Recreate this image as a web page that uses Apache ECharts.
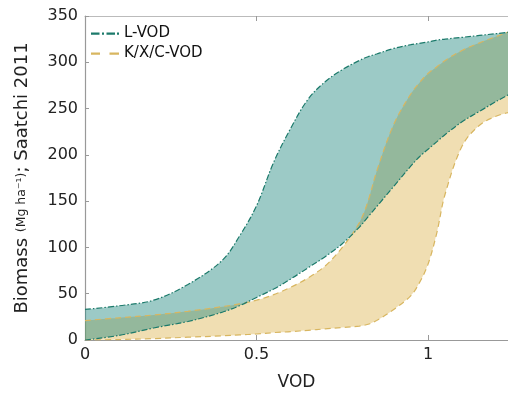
<!DOCTYPE html>
<html>
<head>
<meta charset="utf-8">
<script src="https://cdn.jsdelivr.net/npm/echarts@6/dist/echarts.min.js"></script>
<style>
html,body{margin:0;padding:0;background:#fff;}
#c{width:508px;height:396px;}
</style>
</head>
<body>
<div id="c"></div>
<script>
// VOD grid (x values)
var vod = [0, 0.1, 0.2, 0.3, 0.4, 0.45, 0.5, 0.55, 0.6, 0.65, 0.7, 0.75, 0.8, 0.825, 0.85, 0.9, 0.95, 0.975, 1.0, 1.025, 1.05, 1.1, 1.15, 1.2, 1.25];
// L-VOD band (upper / lower), Mg/ha
var lUpper = [33, 37, 43, 60, 86, 112, 145, 192, 229, 260, 279, 292, 302, 306, 309, 315, 319, 320.5, 322, 324, 325, 327, 329, 331, 333];
var lLower = [0, 5, 13, 20, 30, 37, 46, 55, 66, 78, 90, 104, 122, 133, 144, 166, 188, 198, 206, 214, 222, 236, 247, 258, 268];
// K/X/C-VOD band (upper / lower)
var kUpper = [21, 24, 27, 31, 36, 39, 43, 49, 57, 67, 80, 100, 127, 150, 182, 233, 266, 278, 288, 295, 302, 313, 321, 328, 335];
var kLower = [0, 0.5, 1.5, 3, 4.5, 5.5, 6.5, 8, 9, 10.5, 12, 13.5, 15, 17, 21, 33, 48, 62, 82, 115, 158, 210, 232, 242, 247];
var yTicks = {min: 0, max: 350, interval: 50};
var xTicks = {min: 0, max: 1.233, interval: 0.5};

// value first, VOD second -> stacking happens on the biomass (y) dimension
function pairs(ys) { return ys.map(function (y, i) { return [y, vod[i]]; }); }
function diff(hi, lo) { return hi.map(function (v, i) { return v - lo[i]; }); }

var tealLine = '#1c7a6b', tealFill = 'rgba(40,140,130,0.46)';
var yelLine = '#d8b660', yelFill = 'rgba(222,182,85,0.45)';
var font = 'DejaVu Sans';

function lineSeries(name, stack, ys, color, dash, fill) {
  var s = {
    name: name, type: 'line', stack: stack, data: pairs(ys),
    encode: {x: 1, y: 0},
    smooth: 0.35, symbol: 'none', showSymbol: false,
    lineStyle: {color: color, width: 1.2, type: dash},
    itemStyle: {color: color},
    silent: true, animation: false
  };
  if (fill) s.areaStyle = {color: fill, opacity: 1};
  return s;
}
var tealIcon = 'path://M0,0M28,14M0,6h8.5v2.2h-8.5zM11,6h2v2.2h-2zM15.5,6h8.5v2.2h-8.5zM26,6h2v2.2h-2z';
var yelIcon = 'path://M0,0M28,14M0,6h9v2.2h-9zM18.5,6h9.5v2.2h-9.5z';

var chart = echarts.init(document.getElementById('c'), null, {renderer: 'canvas'});
chart.setOption({
  animation: false,
  textStyle: {fontFamily: font},
  grid: {left: 85, right: 0, top: 16, bottom: 54, containLabel: false},
  legend: {
    left: 91, top: 26, padding: 0, orient: 'vertical', itemGap: 5,
    itemWidth: 28, itemHeight: 14,
    textStyle: {fontFamily: font, fontSize: 15, color: '#111'},
    data: [
      {name: 'L-VOD', icon: tealIcon, itemStyle: {color: tealLine}},
      {name: 'K/X/C-VOD', icon: yelIcon, itemStyle: {color: yelLine}}
    ]
  },
  xAxis: [{
    type: 'value', min: xTicks.min, max: xTicks.max, interval: xTicks.interval,
    name: 'VOD', nameLocation: 'middle', nameGap: 34,
    nameTextStyle: {fontFamily: font, fontSize: 17, color: '#222'},
    axisLine: {show: true, lineStyle: {color: '#999', width: 1.2}},
    axisTick: {show: true, inside: true, length: 5, lineStyle: {color: '#999'}},
    axisLabel: {fontFamily: font, fontSize: 16, color: '#222', margin: 7, showMaxLabel: false,
      formatter: function (v) { return String(v); }},
    splitLine: {show: false}
  }, {
    type: 'value', position: 'top', min: xTicks.min, max: xTicks.max, interval: xTicks.interval,
    axisLine: {show: true, lineStyle: {color: '#bbb', width: 1.2}},
    axisTick: {show: true, inside: true, length: 5, lineStyle: {color: '#999'}},
    axisLabel: {show: false}, splitLine: {show: false}
  }],
  yAxis: {
    type: 'value', min: yTicks.min, max: yTicks.max, interval: yTicks.interval,
    name: '{a|Biomass }{b|(Mg ha⁻¹)}{a|; Saatchi 2011}',
    nameLocation: 'middle', nameGap: 54, nameRotate: 90,
    nameTextStyle: {rich: {
      a: {fontFamily: font, fontSize: 18, color: '#222'},
      b: {fontFamily: font, fontSize: 12.5, color: '#222'}
    }},
    axisLine: {show: true, lineStyle: {color: '#999', width: 1.2}},
    axisTick: {show: true, inside: true, length: 4, lineStyle: {color: '#999'}},
    axisLabel: {fontFamily: font, fontSize: 16, color: '#222', margin: 7},
    splitLine: {show: false}
  },
  series: [
    lineSeries('K/X/C-VOD', 'k', kLower, yelLine, [6, 4], null),
    lineSeries('K/X/C-VOD band', 'k', diff(kUpper, kLower), yelLine, [6, 4], yelFill),
    lineSeries('L-VOD', 'l', lLower, tealLine, [6, 2, 1.5, 2], null),
    lineSeries('L-VOD band', 'l', diff(lUpper, lLower), tealLine, [6, 2, 1.5, 2], tealFill)
  ]
});
</script>
</body>
</html>
